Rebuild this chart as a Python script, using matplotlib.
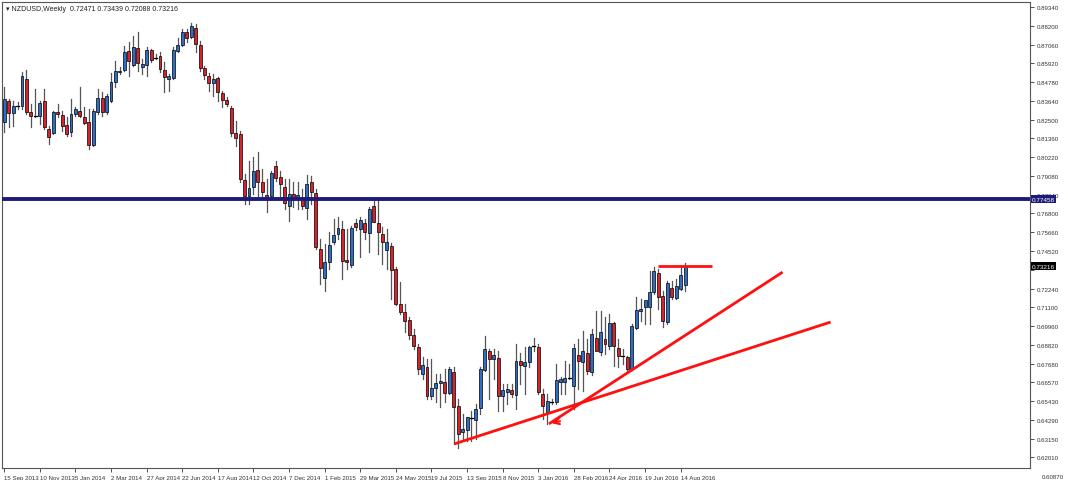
import numpy as np
import matplotlib
matplotlib.use("Agg")
import matplotlib.pyplot as plt
from matplotlib.patches import Rectangle

plt.rcParams['font.family'] = ['Liberation Sans Narrow', 'Liberation Sans', 'DejaVu Sans']

# weekly NZDUSD candles, 15 Sep 2013 .. 21 Aug 2016
opens = [0.8237, 0.8364, 0.8291, 0.8334, 0.8334, 0.8497, 0.8297, 0.8273, 0.8273, 0.8364,
         0.8194, 0.8170, 0.8297, 0.8279, 0.8218, 0.8176, 0.8285, 0.8303, 0.8267, 0.8236,
         0.8097, 0.8297, 0.8382, 0.8297, 0.8364, 0.8479, 0.8540, 0.8552, 0.8667, 0.8582,
         0.8686, 0.8570, 0.8582, 0.8673, 0.8631, 0.8637, 0.8552, 0.8497, 0.8503, 0.8667,
         0.8704, 0.8783, 0.8752, 0.8807, 0.8704, 0.8564, 0.8516, 0.8473, 0.8503, 0.8412,
         0.8370, 0.8321, 0.8170, 0.8164, 0.7884, 0.7787, 0.7842, 0.7945, 0.7872, 0.7793,
         0.7787, 0.7969, 0.7903, 0.7842, 0.7727, 0.7799, 0.7775, 0.7769, 0.7714, 0.7872,
         0.7805, 0.7466, 0.7289, 0.7387, 0.7508, 0.7557, 0.7587, 0.7399, 0.7368, 0.7623,
         0.7587, 0.7623, 0.7563, 0.7727, 0.7623, 0.7557, 0.7460, 0.7484, 0.7344, 0.7132,
         0.7083, 0.7035, 0.6944, 0.6871, 0.6707, 0.6749, 0.6573, 0.6622, 0.6652, 0.6658,
         0.6591, 0.6719, 0.6512, 0.6355, 0.6367, 0.6440, 0.6428, 0.6500, 0.6731, 0.6846,
         0.6798, 0.6804, 0.6573, 0.6598, 0.6610, 0.6579, 0.6786, 0.6755, 0.6779, 0.6877,
         0.6871, 0.6585, 0.6476, 0.6537, 0.6537, 0.6658, 0.6658, 0.6688, 0.6634, 0.6822,
         0.6779, 0.6834, 0.6719, 0.6925, 0.6840, 0.6919, 0.6877, 0.7016, 0.6865, 0.6816,
         0.6810, 0.6737, 0.6986, 0.7089, 0.7113, 0.7113, 0.7205, 0.7320, 0.7180, 0.7022,
         0.7229, 0.7168, 0.7223, 0.7247]
highs = [0.8449, 0.8376, 0.8364, 0.8358, 0.8540, 0.8552, 0.8346, 0.8437, 0.8364, 0.8437,
         0.8212, 0.8303, 0.8346, 0.8303, 0.8267, 0.8376, 0.8327, 0.8449, 0.8327, 0.8315,
         0.8315, 0.8437, 0.8418, 0.8406, 0.8534, 0.8607, 0.8570, 0.8698, 0.8722, 0.8758,
         0.8783, 0.8619, 0.8692, 0.8680, 0.8649, 0.8661, 0.8601, 0.8528, 0.8692, 0.8746,
         0.8801, 0.8801, 0.8837, 0.8831, 0.8728, 0.8576, 0.8534, 0.8528, 0.8510, 0.8425,
         0.8388, 0.8334, 0.8242, 0.8182, 0.7921, 0.7999, 0.8024, 0.8054, 0.7951, 0.7890,
         0.7939, 0.7999, 0.7939, 0.7890, 0.7890, 0.7872, 0.7872, 0.7830, 0.7915, 0.7909,
         0.7830, 0.7526, 0.7496, 0.7569, 0.7648, 0.7660, 0.7636, 0.7587, 0.7605, 0.7648,
         0.7660, 0.7648, 0.7720, 0.7769, 0.7769, 0.7599, 0.7587, 0.7502, 0.7356, 0.7265,
         0.7132, 0.7053, 0.6980, 0.6889, 0.6810, 0.6798, 0.6798, 0.6707, 0.6707, 0.6737,
         0.6749, 0.6749, 0.6555, 0.6464, 0.6446, 0.6482, 0.6525, 0.6749, 0.6938, 0.6858,
         0.6858, 0.6846, 0.6646, 0.6646, 0.6646, 0.6889, 0.6834, 0.6871, 0.6877, 0.6925,
         0.6889, 0.6616, 0.6585, 0.6555, 0.6767, 0.6688, 0.6786, 0.6767, 0.6889, 0.6919,
         0.6968, 0.6919, 0.6980, 0.7089, 0.7089, 0.7053, 0.7071, 0.7022, 0.6919, 0.6858,
         0.6816, 0.7010, 0.7174, 0.7162, 0.7144, 0.7332, 0.7356, 0.7344, 0.7210, 0.7271,
         0.7271, 0.7283, 0.7356, 0.7380]
lows = [0.8176, 0.8206, 0.8212, 0.8315, 0.8315, 0.8285, 0.8206, 0.8267, 0.8224, 0.8194,
        0.8103, 0.8164, 0.8267, 0.8182, 0.8151, 0.8151, 0.8273, 0.8267, 0.8224, 0.8073,
        0.8091, 0.8285, 0.8273, 0.8285, 0.8360, 0.8449, 0.8528, 0.8546, 0.8516, 0.8576,
        0.8546, 0.8528, 0.8516, 0.8601, 0.8619, 0.8540, 0.8418, 0.8425, 0.8497, 0.8661,
        0.8698, 0.8722, 0.8749, 0.8661, 0.8546, 0.8497, 0.8425, 0.8394, 0.8364, 0.8327,
        0.8334, 0.8151, 0.8091, 0.7872, 0.7739, 0.7739, 0.7799, 0.7781, 0.7787, 0.7690,
        0.7769, 0.7878, 0.7769, 0.7708, 0.7636, 0.7720, 0.7708, 0.7708, 0.7648, 0.7739,
        0.7466, 0.7253, 0.7210, 0.7344, 0.7496, 0.7526, 0.7283, 0.7344, 0.7356, 0.7581,
        0.7417, 0.7526, 0.7447, 0.7629, 0.7435, 0.7374, 0.7344, 0.7162, 0.7126, 0.7071,
        0.6962, 0.6919, 0.6858, 0.6707, 0.6676, 0.6555, 0.6555, 0.6537, 0.6506, 0.6537,
        0.6585, 0.6282, 0.6258, 0.6312, 0.6300, 0.6300, 0.6312, 0.6464, 0.6725, 0.6555,
        0.6676, 0.6482, 0.6482, 0.6525, 0.6567, 0.6494, 0.6646, 0.6585, 0.6749, 0.6846,
        0.6585, 0.6434, 0.6403, 0.6525, 0.6525, 0.6585, 0.6585, 0.6676, 0.6494, 0.6616,
        0.6604, 0.6707, 0.6701, 0.6858, 0.6822, 0.6828, 0.6858, 0.6755, 0.6749, 0.6767,
        0.6725, 0.6731, 0.6980, 0.7028, 0.7010, 0.7010, 0.7192, 0.7101, 0.6992, 0.7010,
        0.7162, 0.7162, 0.7218, 0.7209]
closes = [0.8376, 0.8291, 0.8334, 0.8334, 0.8516, 0.8297, 0.8273, 0.8270, 0.8352, 0.8206,
          0.8145, 0.8297, 0.8285, 0.8212, 0.8164, 0.8285, 0.8315, 0.8273, 0.8230, 0.8097,
          0.8303, 0.8382, 0.8297, 0.8394, 0.8479, 0.8546, 0.8546, 0.8661, 0.8607, 0.8692,
          0.8595, 0.8588, 0.8673, 0.8613, 0.8628, 0.8558, 0.8510, 0.8516, 0.8673, 0.8704,
          0.8783, 0.8746, 0.8819, 0.8710, 0.8564, 0.8522, 0.8473, 0.8497, 0.8418, 0.8370,
          0.8346, 0.8170, 0.8139, 0.7890, 0.7787, 0.7836, 0.7939, 0.7872, 0.7811, 0.7775,
          0.7927, 0.7897, 0.7860, 0.7745, 0.7799, 0.7781, 0.7793, 0.7727, 0.7860, 0.7811,
          0.7478, 0.7350, 0.7387, 0.7490, 0.7551, 0.7593, 0.7393, 0.7387, 0.7593, 0.7599,
          0.7642, 0.7569, 0.7708, 0.7629, 0.7569, 0.7508, 0.7508, 0.7338, 0.7132, 0.7083,
          0.7028, 0.6944, 0.6877, 0.6737, 0.6761, 0.6573, 0.6622, 0.6652, 0.6664, 0.6591,
          0.6737, 0.6506, 0.6343, 0.6373, 0.6446, 0.6437, 0.6494, 0.6737, 0.6858, 0.6798,
          0.6822, 0.6573, 0.6610, 0.6616, 0.6585, 0.6786, 0.6761, 0.6779, 0.6871, 0.6874,
          0.6598, 0.6512, 0.6543, 0.6534, 0.6670, 0.6676, 0.6682, 0.6685, 0.6865, 0.6786,
          0.6846, 0.6725, 0.6950, 0.6846, 0.6962, 0.6889, 0.7016, 0.6877, 0.6816, 0.6813,
          0.6737, 0.6998, 0.7095, 0.7101, 0.7156, 0.7205, 0.7332, 0.7174, 0.7028, 0.7259,
          0.7174, 0.7241, 0.7308, 0.7362]

date_labels = ["15 Sep 2013", "10 Nov 2013", "5 Jan 2014", "2 Mar 2014", "27 Apr 2014",
               "22 Jun 2014", "17 Aug 2014", "12 Oct 2014", "7 Dec 2014", "1 Feb 2015",
               "29 Mar 2015", "24 May 2015", "19 Jul 2015", "13 Sep 2015", "8 Nov 2015",
               "3 Jan 2016", "28 Feb 2016", "24 Apr 2016", "19 Jun 2016", "14 Aug 2016"]
price_labels = ["0.89340", "0.88200", "0.87060", "0.85920", "0.84780", "0.83640", "0.82500",
                "0.81360", "0.80220", "0.79080", "0.77940", "0.76800", "0.75660", "0.74520",
                "", "0.72240", "0.71100", "0.69960", "0.68820", "0.67680", "0.66570",
                "0.65430", "0.64290", "0.63150", "0.62010"]
price_ticks = [0.8934 - k * 0.01139 for k in range(len(price_labels))]

level = 0.7769
level_text = "0.77458"
last_text = "0.73216"
# trendlines as (week index, price) pairs
trend_a = [(101.1, 0.6282), (185.7, 0.7022)]
trend_b = [(122.4, 0.6404), (174.9, 0.7325)]
top_line = [(146.9, 0.7362), (159.0, 0.7362)]

fig = plt.figure(figsize=(10.68, 4.81), dpi=100)
ax = fig.add_axes([2 / 1068, 12 / 481, 1028 / 1068, 466 / 481])

for i, (o, h, l, c) in enumerate(zip(opens, highs, lows, closes)):
    up = c >= o
    ax.plot([i, i], [l, h], color="#555555", lw=0.9, zorder=2)
    lo, hi = min(o, c), max(o, c)
    if hi - lo < 0.0004:
        ax.plot([i - 0.35, i + 0.35], [c, c], color="black", lw=0.9, zorder=3)
    else:
        ax.add_patch(Rectangle((i - 0.33, lo), 0.66, hi - lo,
                               facecolor="#2f6ec8" if up else "#d8232a",
                               edgecolor="black", lw=0.5, zorder=3))

ax.axhline(level, color="#1c1c78", lw=2.8, zorder=4)
for seg in (trend_a, trend_b, top_line):
    xs, ys = zip(*seg)
    ax.plot(xs, ys, color="#ff1010", lw=2, zorder=5, solid_capstyle="butt")
ax.annotate("", xy=(122.4, 0.6404), xytext=(125.5, 0.6424),
            arrowprops=dict(arrowstyle="->", color="#ff1010", lw=1.5), zorder=5)

ax.set_xlim(-0.5, 230.5)
ax.set_ylim(0.6136, 0.8965)
ax.yaxis.tick_right()
ax.set_yticks(price_ticks)
ax.set_yticklabels(price_labels)
ax.set_xticks(range(0, 160, 8))
ax.set_xticklabels(date_labels, ha="left")
ax.tick_params(labelsize=4.4, colors="#333333", length=3, width=0.6, pad=2)
for sp in ax.spines.values():
    sp.set_color("#555555")
    sp.set_linewidth(0.8)

ax.text(1.002, level, level_text, transform=ax.get_yaxis_transform(), fontsize=4.6,
        color="white", va="center", ha="left", zorder=10,
        bbox=dict(boxstyle="square,pad=0.2", fc="#1c1c78", ec="none"))
ax.text(1.002, closes[-1], last_text, transform=ax.get_yaxis_transform(), fontsize=4.6,
        color="white", va="center", ha="left", zorder=10,
        bbox=dict(boxstyle="square,pad=0.2", fc="black", ec="none"))
ax.text(1.011, 0.6087, "0.60870", transform=ax.get_yaxis_transform(), fontsize=4.4,
        color="#333333", va="center", ha="left", clip_on=False)
ax.text(0.004, 0.993, "\u25be NZDUSD,Weekly  0.72471 0.73439 0.72088 0.73216",
        transform=ax.transAxes, fontsize=5, color="#222222", va="top", ha="left")

fig.savefig("out.png", dpi=100)
